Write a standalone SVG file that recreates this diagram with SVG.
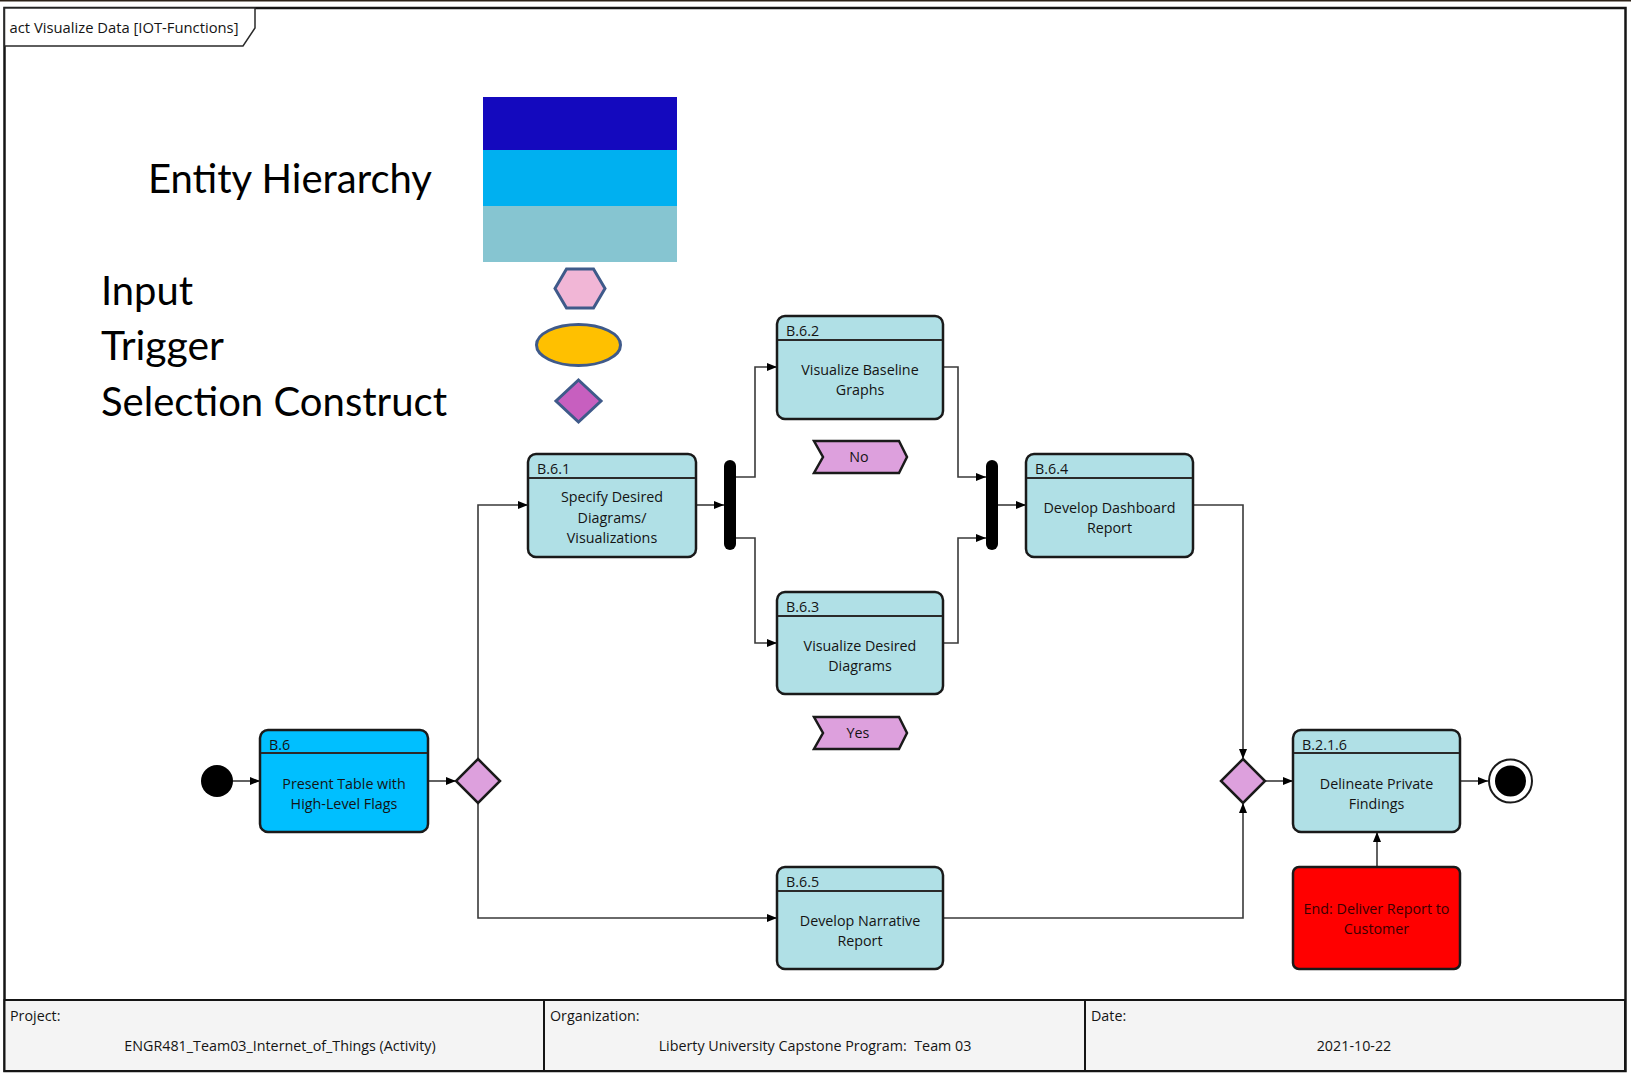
<svg xmlns="http://www.w3.org/2000/svg" width="1631" height="1077" viewBox="0 0 1631 1077">
  <style>
    .frame { fill: #ffffff; stroke: #151515; stroke-width: 2.5; }
    .tab { fill: #ffffff; stroke: #2a2a2a; stroke-width: 1.5; }
    .lbl { font-family: "Open Sans", "Noto Sans", sans-serif; font-size: 14.3px; fill: #141414; }
    .mid { text-anchor: middle; }
    .legend { font-family: "Lato", "Open Sans", sans-serif; font-size: 40px; fill: #000000; }
    .act { stroke: #1a1a1a; stroke-width: 2.5; }
    .light { fill: #b0e0e6; }
    .sky { fill: #00bfff; }
    .hdr { stroke: #2a2a2a; stroke-width: 2; }
    .dec { fill: #dda0dd; stroke: #1a1a1a; stroke-width: 2.5; }
    .bar { fill: #000000; }
    .conn { fill: none; stroke: #3a3a3a; stroke-width: 1.6; marker-end: url(#arrow); }
    .cell { fill: #f4f4f4; stroke: #151515; stroke-width: 2; }
    .leg { stroke: #3f5a8a; stroke-width: 3; }
  </style>
  <defs>
    <marker id="arrow" viewBox="0 0 10 8" refX="10" refY="4" markerWidth="10" markerHeight="8" markerUnits="userSpaceOnUse" orient="auto">
      <path d="M0,0 L10,4 L0,8 z" fill="#000000"/>
    </marker>
  </defs>

  <!-- page edge -->
  <rect x="0" y="0" width="1631" height="1077" fill="#ffffff"/>
  <line x1="0" y1="0.8" x2="1631" y2="0.8" stroke="#2b2117" stroke-width="1.6"/>

  <!-- diagram frame -->
  <rect class="frame" x="4.5" y="8" width="1621" height="1063"/>
  <g id="frame-tab">
    <path class="tab" d="M4.5,8 H255 V28 L243,46 H4.5 Z"/>
    <text class="lbl" x="9.5" y="33" textLength="229" lengthAdjust="spacingAndGlyphs">act Visualize Data [IOT-Functions]</text>
  </g>

  <!-- legend -->
  <g id="legend">
    <text class="legend" x="148" y="193" textLength="284" lengthAdjust="spacingAndGlyphs">Entity Hierarchy</text>
    <text class="legend" x="101" y="305" textLength="92" lengthAdjust="spacingAndGlyphs">Input</text>
    <text class="legend" x="101" y="360" textLength="123" lengthAdjust="spacingAndGlyphs">Trigger</text>
    <text class="legend" x="101" y="416" textLength="346" lengthAdjust="spacingAndGlyphs">Selection Construct</text>
    <rect x="483" y="97" width="194" height="53" fill="#1409be"/>
    <rect x="483" y="150" width="194" height="56" fill="#00b0f0"/>
    <rect x="483" y="206" width="194" height="56" fill="#86c5d1"/>
    <polygon class="leg" points="555,288.5 566.5,269 593.5,269 605,288.5 593.5,308 566.5,308" fill="#f1b6d6"/>
    <ellipse class="leg" cx="578.5" cy="345" rx="42" ry="20.5" fill="#ffc000"/>
    <polygon class="leg" points="578.5,380 601,401 578.5,422 556,401" fill="#c75fbf"/>
  </g>

  <!-- connectors -->
  <g id="connectors">
    <path class="conn" d="M233,781 H260"/>
    <path class="conn" d="M428,781 H456"/>
    <path class="conn" d="M478,759 V505 H528"/>
    <path class="conn" d="M478,803 V918 H777"/>
    <path class="conn" d="M696,505 H724"/>
    <path class="conn" d="M736,477 H755 V367 H777"/>
    <path class="conn" d="M736,538 H755 V643 H777"/>
    <path class="conn" d="M943,367 H958 V477 H986"/>
    <path class="conn" d="M943,643 H958 V538 H986"/>
    <path class="conn" d="M998,505 H1026"/>
    <path class="conn" d="M1193,505 H1243 V759"/>
    <path class="conn" d="M943,918 H1243 V803"/>
    <path class="conn" d="M1265,781 H1293"/>
    <path class="conn" d="M1460,781 H1488"/>
    <path class="conn" d="M1377,867 V832"/>
  </g>

  <!-- initial node -->
  <g id="start">
    <circle cx="217" cy="781" r="16" fill="#000000"/>
  </g>

  <!-- B.6 -->
  <g id="b6">
    <rect class="act sky" x="260" y="730" width="168" height="102" rx="8"/>
    <line class="hdr" x1="261" y1="753" x2="427" y2="753"/>
    <text class="lbl" x="269" y="749.5">B.6</text>
    <text class="lbl mid" x="344" y="788.5">Present Table with</text>
    <text class="lbl mid" x="344" y="809">High-Level Flags</text>
  </g>

  <!-- decision -->
  <g id="decision-1">
    <polygon class="dec" points="478,759 500,781 478,803 456,781"/>
  </g>

  <!-- B.6.1 -->
  <g id="b6-1">
    <rect class="act light" x="528" y="454" width="168" height="103" rx="8"/>
    <line class="hdr" x1="529" y1="478" x2="695" y2="478"/>
    <text class="lbl" x="537" y="473.5">B.6.1</text>
    <text class="lbl mid" x="612" y="502">Specify Desired</text>
    <text class="lbl mid" x="612" y="522.5">Diagrams/</text>
    <text class="lbl mid" x="612" y="543">Visualizations</text>
  </g>

  <!-- fork -->
  <g id="fork">
    <rect class="bar" x="724" y="460" width="12" height="90" rx="6"/>
  </g>

  <!-- B.6.2 -->
  <g id="b6-2">
    <rect class="act light" x="777" y="316" width="166" height="103" rx="8"/>
    <line class="hdr" x1="778" y1="340" x2="942" y2="340"/>
    <text class="lbl" x="786" y="335.5">B.6.2</text>
    <text class="lbl mid" x="860" y="374.5">Visualize Baseline</text>
    <text class="lbl mid" x="860" y="395">Graphs</text>
  </g>

  <!-- guard No -->
  <g id="guard-no">
    <polygon class="dec" points="814,441 899,441 907,457 899,473 814,473 823,457"/>
    <text class="lbl mid" x="859" y="462">No</text>
  </g>

  <!-- B.6.3 -->
  <g id="b6-3">
    <rect class="act light" x="777" y="592" width="166" height="102" rx="8"/>
    <line class="hdr" x1="778" y1="616" x2="942" y2="616"/>
    <text class="lbl" x="786" y="611.5">B.6.3</text>
    <text class="lbl mid" x="860" y="650.5">Visualize Desired</text>
    <text class="lbl mid" x="860" y="671">Diagrams</text>
  </g>

  <!-- guard Yes -->
  <g id="guard-yes">
    <polygon class="dec" points="814,717 899,717 907,733 899,749 814,749 823,733"/>
    <text class="lbl mid" x="858" y="738">Yes</text>
  </g>

  <!-- join -->
  <g id="join">
    <rect class="bar" x="986" y="460" width="12" height="90" rx="6"/>
  </g>

  <!-- B.6.4 -->
  <g id="b6-4">
    <rect class="act light" x="1026" y="454" width="167" height="103" rx="8"/>
    <line class="hdr" x1="1027" y1="478" x2="1192" y2="478"/>
    <text class="lbl" x="1035" y="473.5">B.6.4</text>
    <text class="lbl mid" x="1109.5" y="512.5">Develop Dashboard</text>
    <text class="lbl mid" x="1109.5" y="533">Report</text>
  </g>

  <!-- B.6.5 -->
  <g id="b6-5">
    <rect class="act light" x="777" y="867" width="166" height="102" rx="8"/>
    <line class="hdr" x1="778" y1="891" x2="942" y2="891"/>
    <text class="lbl" x="786" y="886.5">B.6.5</text>
    <text class="lbl mid" x="860" y="925.5">Develop Narrative</text>
    <text class="lbl mid" x="860" y="946">Report</text>
  </g>

  <!-- merge -->
  <g id="decision-2">
    <polygon class="dec" points="1243,759 1265,781 1243,803 1221,781"/>
  </g>

  <!-- B.2.1.6 -->
  <g id="b2-1-6">
    <rect class="act light" x="1293" y="730" width="167" height="102" rx="8"/>
    <line class="hdr" x1="1294" y1="753" x2="1459" y2="753"/>
    <text class="lbl" x="1302" y="749.5">B.2.1.6</text>
    <text class="lbl mid" x="1376.5" y="788.5">Delineate Private</text>
    <text class="lbl mid" x="1376.5" y="809">Findings</text>
  </g>

  <!-- trigger -->
  <g id="end-trigger">
    <rect class="act" x="1293" y="867" width="167" height="102" rx="6" fill="#ff0000"/>
    <text class="lbl mid" x="1376.5" y="913.5" style="fill:#3a0000">End: Deliver Report to</text>
    <text class="lbl mid" x="1376.5" y="934" style="fill:#3a0000">Customer</text>
  </g>

  <!-- final node -->
  <g id="final">
    <circle cx="1510.5" cy="781" r="21.5" fill="#ffffff" stroke="#1a1a1a" stroke-width="2"/>
    <circle cx="1510.5" cy="781" r="15.5" fill="#000000"/>
  </g>

  <!-- footer -->
  <g id="footer">
    <rect class="cell" x="4.5" y="1000" width="539.5" height="71"/>
    <rect class="cell" x="544" y="1000" width="541" height="71"/>
    <rect class="cell" x="1085" y="1000" width="540" height="71"/>
    <text class="lbl" x="10" y="1021">Project:</text>
    <text class="lbl mid" x="280" y="1051">ENGR481_Team03_Internet_of_Things (Activity)</text>
    <text class="lbl" x="550" y="1021">Organization:</text>
    <text class="lbl mid" x="815" y="1051" xml:space="preserve">Liberty University Capstone Program:  Team 03</text>
    <text class="lbl" x="1091" y="1021">Date:</text>
    <text class="lbl mid" x="1354" y="1051">2021-10-22</text>
  </g>
</svg>
